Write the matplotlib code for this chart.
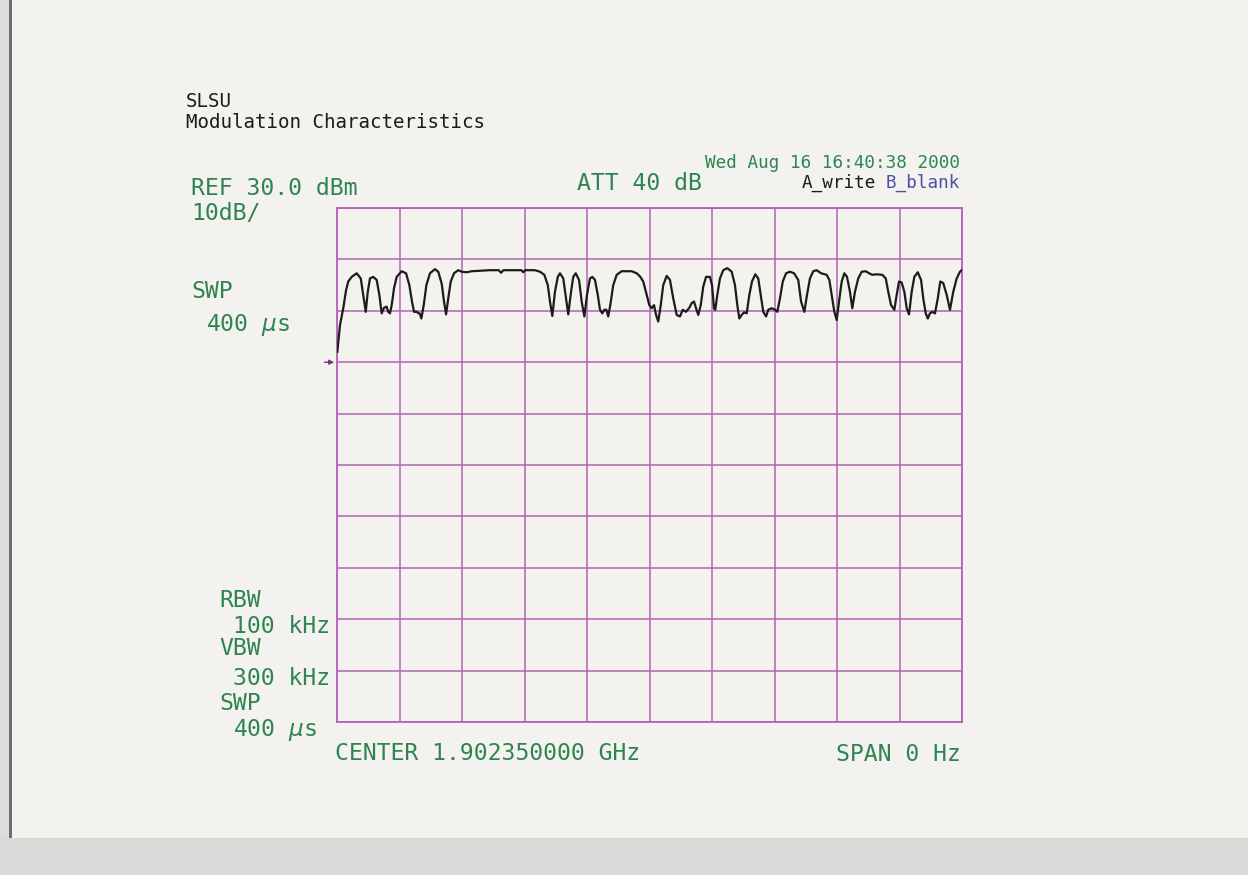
import numpy as np
import matplotlib
matplotlib.use("Agg")
import matplotlib.pyplot as plt
from matplotlib.patches import Rectangle

# ---- data (zero span, time domain) ----
time_us = [
    0.2, 1.9, 4.0, 5.8, 7.2, 9.4, 12.6, 15.2, 16.8, 18.4, 19.7, 21.1, 23.2, 25.4, 27.1, 28.6,
    30.1, 31.8, 32.8, 33.9, 35.0, 36.5, 38.2, 41.4, 44.2, 46.3, 48.0, 49.3, 51.0, 52.3, 52.9,
    54.0, 55.5, 57.2, 59.5, 62.7, 64.8, 67.0, 68.5, 69.8, 71.2, 72.8, 74.9, 77.6, 79.8, 83.0,
    86.2, 97.9, 103.5, 105.0, 106.5, 118.0, 119.2, 120.5, 126.7, 129.9, 132.7, 134.9, 136.3,
    137.8, 139.5, 141.3, 142.7, 144.8, 146.6, 148.0, 149.8, 151.2, 152.8, 154.9, 156.6, 158.3,
    160.0, 161.9, 163.4, 165.1, 166.9, 168.3, 169.8, 171.1, 172.4, 173.6, 174.9, 176.8, 179.0,
    182.2, 188.6, 191.8, 193.9, 196.0, 198.2, 199.9, 201.4, 202.9, 204.2, 205.6, 207.2, 208.8,
    211.0, 213.1, 215.2, 217.4, 219.5, 221.3, 223.4, 225.5, 227.0, 228.5, 229.8, 231.2, 232.8,
    234.4, 236.2, 238.7, 240.0, 241.3, 242.1, 243.4, 245.1, 247.2, 249.8, 252.6, 254.7, 256.2,
    257.5, 259.0, 260.5, 262.2, 263.9, 265.6, 267.7, 269.6, 271.2, 272.8, 274.6, 276.0, 278.2,
    280.3, 281.8, 283.5, 285.3, 287.4, 289.9, 292.5, 295.2, 297.0, 299.1, 300.8, 302.7, 304.8,
    307.0, 309.8, 313.4, 315.1, 316.6, 318.3, 319.8, 321.3, 323.0, 324.7, 326.4, 328.3, 329.8,
    331.5, 333.6, 335.8, 338.4, 340.5, 342.6, 345.4, 349.0, 351.2, 352.8, 354.6, 356.7, 358.2,
    359.7, 361.4, 363.1, 364.6, 366.1, 367.8, 369.5, 371.7, 373.8, 375.2, 376.8, 378.1, 379.5,
    381.0, 382.7, 384.5, 386.1, 388.0, 390.2, 392.3, 394.4, 396.6, 398.7, 399.8,
]
level_dbm = [
    2.0, 7.2, 10.5, 14.0, 15.7, 16.6, 17.3, 16.3, 13.1, 9.8, 13.7, 16.3, 16.6, 16.0, 13.1, 9.5,
    10.6, 10.8, 9.8, 9.5, 11.1, 14.4, 16.6, 17.7, 17.3, 15.0, 11.8, 9.8, 9.8, 9.5, 9.5,
    8.5, 11.1, 15.0, 17.3, 18.1, 17.6, 15.3, 11.8, 9.3, 12.4, 15.7, 17.3, 17.9, 17.6, 17.5,
    17.7, 17.9, 17.9, 17.4, 17.9, 17.9, 17.5, 17.9, 17.9, 17.6, 17.0, 15.0, 11.8,
    9.0, 13.7, 16.6, 17.3, 16.3, 12.4, 9.3, 13.7, 16.6, 17.3, 16.0, 11.8, 8.9,
    13.1, 16.3, 16.6, 16.0, 13.1, 10.2, 9.5, 10.2, 10.2, 8.9, 11.1, 15.0, 17.0,
    17.7, 17.7, 17.3, 16.7, 15.7, 13.1, 11.1, 10.5, 11.1, 9.2, 7.9, 11.1, 15.0,
    16.8, 16.0, 12.4, 9.2, 8.9, 10.2, 9.8, 10.6, 11.5, 11.8, 10.5, 9.2, 11.1,
    14.7, 16.6, 16.6, 15.0, 10.5, 10.2, 13.1, 16.3, 17.9, 18.3, 17.6, 15.0, 11.1,
    8.5, 9.2, 9.7, 9.5, 13.1, 15.7, 17.1, 16.3, 13.1, 9.8, 8.9, 10.2, 10.5,
    10.2, 9.8, 12.4, 15.7, 17.3, 17.6, 17.3, 16.0, 11.8, 9.8, 13.1, 16.3, 17.7,
    17.9, 17.3, 17.0, 16.0, 13.1, 9.8, 8.2, 11.8, 15.7, 17.3, 16.6, 13.7, 10.5,
    13.7, 16.3, 17.6, 17.7, 17.3, 17.0, 17.1, 17.0, 16.3, 13.7, 11.1, 10.2, 13.1,
    15.7, 15.5, 13.7, 10.5, 9.3, 13.7, 16.6, 17.5, 16.0, 12.4, 9.5, 8.5, 9.5,
    9.8, 9.5, 12.4, 15.7, 15.4, 13.1, 10.2, 13.7, 16.3, 17.6, 17.9,
]

ref_level_dbm = 30.0
db_per_div = 10
n_div = 10
sweep_us = 400
marker_level_dbm = 0.0

title_lines = ["SLSU", "Modulation Characteristics"]
timestamp = "Wed Aug 16 16:40:38 2000"

# ---- figure ----
W, H = 1248, 875
PAPER = "#f3f2ee"
GREEN = "#2f8452"
GRID = "#b064b4"
INK = "#1c1c1c"
BLUE = "#4b4fa6"
MONO = "DejaVu Sans Mono"

fig = plt.figure(figsize=(W / 100, H / 100), dpi=100, facecolor=PAPER)


def fx(px):
    return px / W


def fy(py):
    return 1 - py / H


# scanner edges
fig.patches.append(Rectangle((0, 0), fx(9), 1, transform=fig.transFigure,
                             facecolor="#dcdcdc", edgecolor="none", zorder=0))
fig.patches.append(Rectangle((fx(9), fy(838)), fx(3), 1 - fy(838), transform=fig.transFigure,
                             facecolor="#6e6e6e", edgecolor="none", zorder=0))
fig.patches.append(Rectangle((0, 0), 1, fy(838), transform=fig.transFigure,
                             facecolor="#d9d9d7", edgecolor="none", zorder=0))

ax = fig.add_axes([fx(337), fy(722), fx(962) - fx(337), fy(208) - fy(722)])
ax.set_facecolor(PAPER)
ax.plot(time_us, level_dbm, color=INK, lw=1.6, solid_joinstyle="round", zorder=3)
ax.set_xlim(0, sweep_us)
ax.set_ylim(ref_level_dbm - n_div * db_per_div, ref_level_dbm)
ax.set_xticks(np.linspace(0, sweep_us, n_div + 1))
ax.set_yticks(np.linspace(ref_level_dbm - n_div * db_per_div, ref_level_dbm, n_div + 1))
ax.tick_params(length=0, labelbottom=False, labelleft=False)
ax.grid(True, color=GRID, lw=1.1)
for s in ax.spines.values():
    s.set_color(GRID)
    s.set_linewidth(1.3)

ax.annotate("", xy=(0, marker_level_dbm), xycoords="data",
            xytext=(-9, 0), textcoords="offset points",
            arrowprops=dict(arrowstyle="-|>", color="#7a2f86", lw=1.0, mutation_scale=7,
                            shrinkA=0, shrinkB=2),
            annotation_clip=False)


def put(px, py, s, color=GREEN, size=16.7, ha="left"):
    fig.text(fx(px), fy(py), s, color=color, fontsize=size, family=MONO,
             ha=ha, va="baseline")


# title
put(186, 107, title_lines[0], color=INK, size=13.8)
put(186, 128, title_lines[1], color=INK, size=13.8)

# header
put(960, 168, timestamp, size=12.7, ha="right")
put(191, 195, "REF 30.0 dBm")
put(191, 220, "10dB/")
put(577, 190, "ATT 40 dB")
put(876, 188, "A_write", color=INK, size=12.7, ha="right")
put(960, 188, "B_blank", color=BLUE, size=12.7, ha="right")

# left side
put(191, 298, "SWP")
put(206, 331, r"400 $\mu$s")
put(219, 607, "RBW")
put(233, 633, "100 kHz")
put(219, 655, "VBW")
put(233, 685, "300 kHz")
put(219, 710, "SWP")
put(233, 736, r"400 $\mu$s")

# bottom
put(335, 760, "CENTER 1.902350000 GHz")
put(961, 761, "SPAN 0 Hz", ha="right")

fig.savefig("out.png", dpi=100, facecolor=PAPER)
